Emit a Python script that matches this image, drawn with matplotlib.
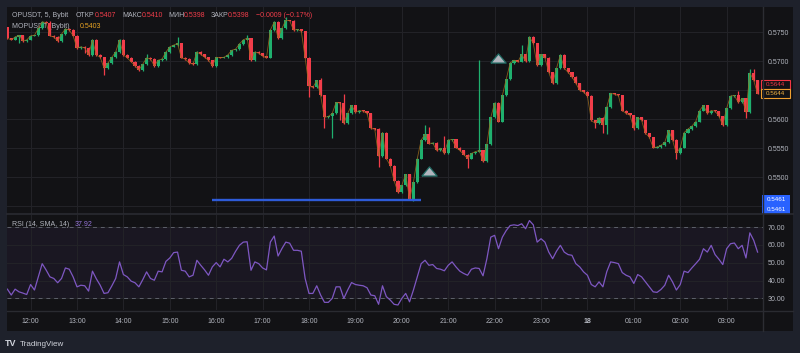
import matplotlib
matplotlib.use('Agg')
import matplotlib.pyplot as plt
import numpy as np
import pandas as pd
from matplotlib.patches import Rectangle

plt.rcParams['font.family'] = ['Liberation Sans', 'DejaVu Sans']

# ---- data (5 min candles, OPUSDT Bybit) ----
first_open = 0.5759
closes = [
    0.5740, 0.5737, 0.5742, 0.5745, 0.5735, 0.5737, 0.5744, 0.5745, 0.5757, 0.5768,
    0.5767, 0.5744, 0.5742, 0.5735, 0.5747, 0.5756, 0.5754, 0.5744, 0.5723, 0.5725,
    0.5723, 0.5711, 0.5737, 0.5711, 0.5707, 0.5688, 0.5697, 0.5707, 0.5716, 0.5737,
    0.5711, 0.5706, 0.5699, 0.5692, 0.5685, 0.5695, 0.5706, 0.5704, 0.5692, 0.5702,
    0.5704, 0.5716, 0.5725, 0.5728, 0.5731, 0.5706, 0.5704, 0.5697, 0.5695, 0.5716,
    0.5712, 0.5707, 0.5702, 0.5692, 0.5707, 0.5706, 0.5707, 0.5711, 0.5719, 0.5721,
    0.5730, 0.5737, 0.5740, 0.5702, 0.5716, 0.5714, 0.5709, 0.5706, 0.5754, 0.5768,
    0.5740, 0.5757, 0.5771, 0.5770, 0.5754, 0.5755, 0.5752, 0.5706, 0.5657, 0.5655,
    0.5667, 0.5641, 0.5603, 0.5605, 0.5610, 0.5629, 0.5628, 0.5593, 0.5610, 0.5624,
    0.5612, 0.5615, 0.5614, 0.5610, 0.5584, 0.5583, 0.5536, 0.5577, 0.5532, 0.5520,
    0.5494, 0.5474, 0.5486, 0.5505, 0.5462, 0.5491, 0.5532, 0.5564, 0.5574, 0.5558,
    0.5559, 0.5546, 0.5550, 0.5541, 0.5564, 0.5565, 0.5551, 0.5546, 0.5539, 0.5532,
    0.5541, 0.5544, 0.5546, 0.5527, 0.5557, 0.5603, 0.5628, 0.5596, 0.5641, 0.5669,
    0.5697, 0.5702, 0.5699, 0.5712, 0.5700, 0.5742, 0.5731, 0.5693, 0.5712, 0.5706,
    0.5681, 0.5662, 0.5688, 0.5711, 0.5688, 0.5681, 0.5673, 0.5662, 0.5650, 0.5647,
    0.5640, 0.5598, 0.5593, 0.5602, 0.5590, 0.5621, 0.5645, 0.5643, 0.5641, 0.5615,
    0.5610, 0.5607, 0.5584, 0.5603, 0.5598, 0.5576, 0.5569, 0.5551, 0.5552, 0.5555,
    0.5560, 0.5581, 0.5564, 0.5541, 0.5551, 0.5577, 0.5583, 0.5588, 0.5596, 0.5615,
    0.5624, 0.5610, 0.5615, 0.5614, 0.5605, 0.5590, 0.5619, 0.5640, 0.5641, 0.5629,
    0.5636, 0.5612, 0.5680, 0.5667, 0.5644,
]
# long wicks that stand out
hi_wicks = {11: 0.5770, 36: 0.5712, 44: 0.5742, 62: 0.5745, 72: 0.5776, 81: 0.5672,
            87: 0.5644, 108: 0.5590, 109: 0.5587, 113: 0.5571, 122: 0.5702,
            133: 0.5729, 189: 0.5648, 192: 0.5686, 193: 0.5686}
lo_wicks = {3: 0.5731, 20: 0.5714, 25: 0.5676, 78: 0.5638, 82: 0.5584, 84: 0.5567,
            86: 0.5598, 96: 0.5517, 104: 0.5461, 105: 0.5458, 119: 0.5516,
            152: 0.5584, 154: 0.5577, 155: 0.5575, 162: 0.5581, 173: 0.5532, 191: 0.5602}

rsi = [
    35.2, 31.9, 35.2, 33.7, 33.0, 32.2, 37.8, 34.7, 42.0, 49.5,
    46.0, 42.1, 41.2, 38.8, 41.2, 47.1, 46.4, 42.1, 36.5, 37.4,
    37.1, 34.1, 45.3, 41.0, 37.4, 32.8, 33.2, 37.0, 41.2, 50.5,
    43.4, 42.1, 39.7, 38.8, 36.5, 40.5, 44.9, 41.2, 40.2, 45.3,
    44.9, 50.8, 52.7, 55.7, 56.0, 45.8, 45.3, 42.1, 43.0, 51.4,
    48.6, 46.0, 43.0, 47.7, 50.1, 47.7, 52.0, 50.5, 52.5, 56.4,
    59.8, 61.6, 61.8, 45.8, 50.5, 49.5, 47.1, 46.0, 61.6, 65.0,
    53.8, 58.0, 61.6, 61.0, 57.0, 57.0, 56.5, 41.2, 32.8, 32.8,
    37.1, 31.9, 27.8, 27.8, 30.0, 36.5, 36.5, 30.0, 34.7, 38.9,
    37.8, 37.4, 37.1, 36.0, 31.9, 31.5, 26.7, 37.1, 31.0, 29.1,
    26.7, 26.3, 30.0, 32.8, 28.1, 34.7, 42.1, 49.5, 51.4, 48.6,
    49.0, 46.8, 46.4, 45.5, 48.6, 50.5, 47.7, 45.3, 44.0, 43.0,
    46.4, 47.1, 46.8, 42.7, 52.3, 64.4, 65.4, 57.9, 64.4, 68.1,
    70.9, 71.3, 70.9, 71.9, 69.1, 73.7, 71.3, 61.6, 63.5, 61.6,
    56.0, 52.3, 56.5, 59.8, 56.0, 54.6, 54.2, 49.5, 47.7, 44.9,
    43.0, 37.8, 36.5, 39.3, 36.5, 45.0, 50.5, 50.1, 49.5, 44.5,
    43.0, 42.1, 38.4, 43.4, 42.1, 39.3, 36.5, 33.7, 33.4, 35.0,
    37.4, 43.0, 39.3, 34.7, 37.8, 45.3, 44.5, 47.1, 49.5, 52.0,
    57.9, 56.0, 59.8, 54.6, 52.0, 49.0, 57.9, 60.7, 61.1, 57.9,
    59.8, 52.7, 66.8, 62.6, 56.0,
]

signal_idx = [109, 127]
signal_price = [0.5510, 0.5706]
level_start, level_end, level_price = 53, 107, 0.5461
last_price = 0.5644
price_grid = [0.5450, 0.5500, 0.5550, 0.5600, 0.5650, 0.5700, 0.5750]
price_labeled = [0.5500, 0.5550, 0.5600, 0.5700, 0.5750]  # others hidden by price tags
rsi_ticks = [30, 40, 50, 60, 70]
rsi_last = '37.92'

times = pd.date_range('2023-03-17 11:30', periods=len(closes), freq='5min')

# ---- colours ----
BG = '#1e212b'
PANEL = '#121215'
GRID = '#222227'
TXT = '#b2b5be'
GREEN = '#1fb06e'
RED = '#f23d4a'
PURPLE = '#7e57c2'

W, H = 800, 353


def fr(x0, y0, x1, y1):
    # pixel box (origin top-left) -> figure fraction
    return [x0 / W, 1 - y1 / H, (x1 - x0) / W, (y1 - y0) / H]


fig = plt.figure(figsize=(8, 3.53), dpi=100, facecolor=BG)

panel = fig.add_axes(fr(7, 7, 793, 331))
panel.set_facecolor(PANEL)
panel.set_xticks([]); panel.set_yticks([])
for s in panel.spines.values():
    s.set_visible(False)

ax = fig.add_axes(fr(7, 7, 763, 213.5))
ax_r = fig.add_axes(fr(7, 214.5, 763, 310))
for a in (ax, ax_r):
    a.set_facecolor('none')
    for s in a.spines.values():
        s.set_visible(False)

idx = np.arange(len(closes))
c = np.array(closes)
o = np.array([first_open] + closes[:-1])
up = c >= o
body_lo = np.minimum(o, c)
body_h = np.maximum(np.abs(c - o), 0.00014)
hi = np.maximum(o, c) + 0.0001
lo = body_lo - 0.0001
for k, v in hi_wicks.items():
    hi[k] = v
for k, v in lo_wicks.items():
    lo[k] = v
cols = np.where(up, GREEN, RED)

ax.vlines(idx, lo, hi, colors=cols, lw=0.9, zorder=3)
ax.bar(idx, body_h, bottom=body_lo, width=0.8, color=cols, lw=0, zorder=4)
ax.plot(idx, c, color='#9a6a1c', lw=0.6, alpha=0.85, zorder=5)
ax.hlines(level_price, level_start, level_end, color='#2e5bd8', lw=1.7, zorder=6)
tri = [(-1, -0.6), (1, -0.6), (0, 0.6), (-1, -0.6)]
ax.plot(signal_idx, signal_price, ls='none', marker=tri, ms=11,
        mfc='#b2b5be', mec='#1f6b63', mew=0.9, zorder=7)

xl = (-0.1, 195.4)
hour_idx = [i for i, t in enumerate(times) if t.minute == 0]
hour_lab = [str(t.day) if t.hour == 0 else t.strftime('%H:%M') for t in times[hour_idx]]

ax.set_xlim(*xl)
ax.set_ylim(0.54372, 0.57938)
ax.set_xticks(hour_idx)
ax.set_yticks(price_grid)
ax.set_yticklabels(['%.4f' % p if p in price_labeled else '' for p in price_grid])
ax.yaxis.tick_right()
ax.tick_params(axis='x', length=0, labelbottom=False)
ax.tick_params(axis='y', length=0, pad=3.5, labelsize=5, labelcolor=TXT)
ax.grid(True, color=GRID, lw=0.8, zorder=0)

ax_r.axhspan(30, 70, color=PURPLE, alpha=0.08, lw=0, zorder=1)
for lvl in (30, 70):
    ax_r.axhline(lvl, color='#5d606b', lw=0.7, dashes=(4, 4), zorder=2)
ax_r.plot(idx, rsi, color=PURPLE, lw=0.9, zorder=3)
ax_r.set_xlim(*xl)
ax_r.set_ylim(23.5, 77.1)
ax_r.set_xticks(hour_idx)
ax_r.set_xticklabels(hour_lab)
for lab in ax_r.get_xticklabels():
    if ':' not in lab.get_text():
        lab.set_fontweight('bold')
ax_r.set_yticks(rsi_ticks)
ax_r.set_yticklabels(['%.2f' % v for v in rsi_ticks])
ax_r.yaxis.tick_right()
ax_r.tick_params(axis='x', length=0, pad=5.5, labelsize=5, labelcolor=TXT)
ax_r.tick_params(axis='y', length=0, pad=3.5, labelsize=5, labelcolor=TXT)
ax_r.grid(True, color=GRID, lw=0.8, zorder=0)

# overlay in pixel coordinates for labels / separators
ov = fig.add_axes([0, 0, 1, 1], zorder=10)
ov.set_xlim(0, W); ov.set_ylim(H, 0)
ov.axis('off')
ov.patch.set_alpha(0)

ov.plot([763, 763], [7, 331], color='#2c2d33', lw=1)
ov.plot([7, 793], [213.8, 213.8], color='#2a2b31', lw=1.2)
ov.plot([7, 793], [310.5, 310.5], color='#2a2b31', lw=1)

# header legend (drawn under candles)
hdr = [(12, 'OPUSDT, 5, Bybit', TXT), (76, 'ОТКР', TXT), (94.5, '0.5407', RED),
       (122, 'МАКС', TXT), (141.5, '0.5410', RED), (168, 'МИН', TXT),
       (184, '0.5398', RED), (211, 'ЗАКР', TXT), (228, '0.5398', RED),
       (256, '−0.0009 (−0.17%)', RED)]
for x, s, col in hdr:
    ax.text(x, 15.7, s, transform=ov.transData, fontsize=5, color=col,
            va='center', ha='left', zorder=2)
ax.text(12, 26.7, 'MOPUSDT (Bybit)', transform=ov.transData, fontsize=5,
        color=TXT, va='center', zorder=2)
ax.text(80, 26.7, '0.5403', transform=ov.transData, fontsize=5,
        color='#e8a323', va='center', zorder=2)
ax_r.text(12, 224.3, 'RSI (14, SMA, 14)', transform=ov.transData, fontsize=5,
          color=TXT, va='center', zorder=4)
ax_r.text(75, 224.3, rsi_last, transform=ov.transData, fontsize=5,
          color='#9575d9', va='center', zorder=4)

# price tags on the right scale
y_last = H - ax.transData.transform((0, last_price))[1]
y_lvl = H - ax.transData.transform((0, level_price))[1]
ov.add_patch(Rectangle((761, y_last - 13.6), 29, 8.6, fc=PANEL, ec='#f23645', lw=0.8))
ov.text(775.5, y_last - 9.3, '%.4f' % last_price, fontsize=4.5, color='#f23645',
        ha='center', va='center')
ov.add_patch(Rectangle((761, y_last - 4.4), 29, 9, fc=PANEL, ec='#f0a030', lw=0.8))
ov.text(775.5, y_last + 0.2, '%.4f' % last_price, fontsize=4.5, color='#f0b040',
        ha='center', va='center')
ov.add_patch(Rectangle((762, y_lvl - 5), 28, 19.5, fc='#2962ff', ec='none'))
ov.text(776, y_lvl - 0.3, '%.4f' % level_price, fontsize=4.5, color='white',
        ha='center', va='center')
ov.text(776, y_lvl + 9.6, '%.4f' % level_price, fontsize=4.5, color='white',
        ha='center', va='center')

# footer logo
ov.text(5, 344, 'TV', fontsize=6.5, fontweight='bold', color='#d1d4dc', va='center')
ov.text(19.5, 344.3, 'TradingView', fontsize=5.8, color='#d1d4dc', va='center')

fig.savefig('out.png', dpi=100, facecolor=BG)
